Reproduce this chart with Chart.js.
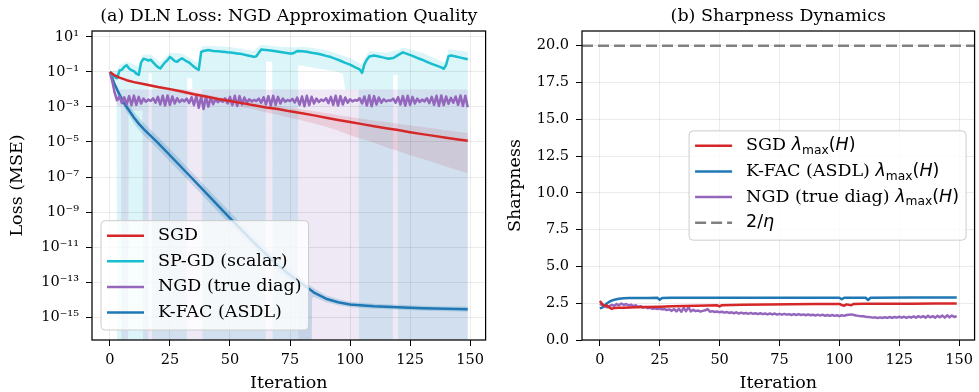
<!DOCTYPE html>
<html>
<head>
<meta charset="utf-8">
<script src="https://cdn.jsdelivr.net/npm/chart.js@4.4.0/dist/chart.umd.min.js"></script>
<style>
  html, body { margin: 0; padding: 0; background: #fff; }
  #wrap { position: relative; width: 979px; height: 392px; }
  #lossChart { position: absolute; left: 0; top: 0; }
  #sharpChart { position: absolute; left: 490px; top: 0; }
</style>
</head>
<body>
<div id="wrap">
  <canvas id="lossChart" width="490" height="392"></canvas>
  <canvas id="sharpChart" width="489" height="392"></canvas>
</div>
<script>
// ---- (a) loss, stored as log10(loss) ----
const sgdIter = [0,2,4,7,10,15,20,25,30,35,40,45,50,55,60,65,70,75,80,85,90,95,100,105,110,115,120,125,130,135,140,145,149];
const sgdLoss = [-1.0,-1.2,-1.32,-1.47,-1.58,-1.72,-1.86,-1.98,-2.12,-2.27,-2.40,-2.54,-2.66,-2.78,-2.90,-3.03,-3.12,-3.25,-3.36,-3.48,-3.61,-3.74,-3.86,-3.98,-4.10,-4.21,-4.32,-4.44,-4.55,-4.65,-4.76,-4.86,-4.93];
const sgdHi = [-1.0,-1.18,-1.29,-1.43,-1.53,-1.66,-1.79,-1.9,-2.03,-2.16,-2.28,-2.41,-2.52,-2.62,-2.73,-2.85,-2.93,-3.04,-3.14,-3.24,-3.35,-3.46,-3.57,-3.67,-3.77,-3.86,-3.96,-4.05,-4.15,-4.23,-4.33,-4.42,-4.5];
const sgdLo = [-1.0,-1.22,-1.36,-1.52,-1.64,-1.8,-1.95,-2.08,-2.24,-2.41,-2.56,-2.72,-2.86,-3.0,-3.15,-3.31,-3.45,-3.62,-3.77,-3.95,-4.13,-4.35,-4.62,-4.83,-5.05,-5.3,-5.52,-5.75,-5.96,-6.17,-6.4,-6.62,-6.8];

const spgdIter = [0,1,2,3,4,5,6,7,8,9,10,11,12,13,14,15,16,17,18,19,20,21,22,23,24,25,26,27,28,29,30,31,32,33,34,35,36,37,38,39,41,43,45,47,49,51,53,55,57,59,60,61,62,63,65,67,69,71,73,75,76,77,78,80,82,84,86,88,90,92,94,96,98,100,102,104,105,106,107,108,110,112,114,116,118,119,120,122,124,126,128,130,132,134,136,138,139,140,141,142,144,146,148,149];
const spgdLoss = [-1.0,-1.15,-1.3,-1.36,-0.92,-0.88,-0.7,-0.62,-0.8,-0.9,-0.95,-1.1,-1.17,-0.45,-0.25,-0.28,-0.35,-0.3,-0.45,-0.6,-0.72,-0.8,-0.62,-0.45,-0.32,-0.14,-0.25,-0.38,-0.42,-0.3,-0.22,-0.3,-0.4,-0.46,-0.58,-0.7,-0.8,-0.88,0.14,0.2,0.25,0.2,0.18,0.16,0.12,0.1,0.06,0.02,-0.05,-0.1,-0.14,-0.1,0.1,0.28,0.25,0.22,0.18,0.14,0.1,0.06,0.05,0.12,0.2,0.18,0.15,0.1,0.06,0.0,-0.08,-0.15,-0.25,-0.36,-0.48,-0.58,-0.72,-0.85,-1.05,-0.55,-0.3,-0.12,-0.06,-0.12,-0.18,-0.24,-0.2,-0.12,-0.04,0.12,0.02,-0.08,-0.2,-0.3,-0.42,-0.54,-0.64,-0.74,-0.82,-0.6,-0.1,-0.06,-0.12,-0.18,-0.24,-0.27];
const spgdHiIter = [0,3,4,7,12,13,14,17,21,25,30,37,38,41,50,60,62,63,70,77,80,90,100,104,105,106,108,115,120,122,130,139,140,141,149];
const spgdHi = [-0.95,-0.9,-0.6,-0.4,-0.7,-0.15,0.0,0.0,-0.45,0.1,0.05,-0.5,0.45,0.5,0.42,0.2,0.45,0.55,0.45,0.4,0.45,0.25,-0.2,-0.5,-0.6,-0.2,0.2,0.1,0.25,0.4,0.1,-0.45,-0.3,0.3,0.15];
const spgdLoIter = [0,2.8,3,16,16.2,17.4,17.6,32,32.2,34.2,34.4,38.4,38.6,64.8,65,67.6,67.8,78.2,78.4,86,94,97,98,103.6,103.8,117.8,118,119.8,120,149];
const spgdLo = [-1.05,-1.6,-20,-20,-1.07,-1.07,-20,-20,-1.36,-1.36,-2.0,-2.0,-20,-20,-0.41,-0.41,-20,-20,-0.6,-0.79,-0.96,-1.1,-2.0,-2.0,-20,-20,-1.17,-1.17,-20,-20];

// NGD: one value per iteration 0..149
const ngdLoss = [
  -1.00,-1.55,-2.20,-2.62,-2.40,-2.78,-2.45,-2.85,-2.38,-2.90,
  -2.35,-2.88,-2.42,-2.80,-2.52,-2.70,-2.58,-2.66,-2.50,-2.76,
  -2.42,-2.86,-2.36,-2.92,-2.34,-2.88,-2.40,-2.80,-2.50,-2.72,
  -2.58,-2.68,-2.52,-2.78,-2.44,-2.90,-2.36,-3.05,-2.40,-3.12,
  -2.42,-2.98,-2.48,-2.84,-2.56,-2.72,-2.60,-2.70,-2.50,-2.80,
  -2.42,-2.90,-2.36,-2.94,-2.38,-2.86,-2.46,-2.76,-2.56,-2.68,
  -2.60,-2.66,-2.52,-2.76,-2.44,-2.86,-2.38,-2.92,-2.36,-2.88,
  -2.42,-2.80,-2.52,-2.70,-2.60,-2.66,-2.54,-2.74,-2.46,-2.88,
  -2.40,-2.96,-2.36,-2.90,-2.42,-2.80,-2.52,-2.72,-2.58,-2.66,
  -2.50,-2.78,-2.42,-2.88,-2.36,-2.92,-2.38,-2.86,-2.46,-2.76,
  -2.56,-2.68,-2.60,-2.64,-2.50,-2.80,-2.40,-2.92,-2.34,-2.96,
  -2.38,-2.86,-2.46,-2.76,-2.56,-2.68,-2.62,-2.64,-2.52,-2.76,
  -2.44,-2.86,-2.38,-2.92,-2.36,-2.88,-2.42,-2.80,-2.52,-2.72,
  -2.58,-2.68,-2.50,-2.78,-2.42,-2.88,-2.36,-2.94,-2.34,-2.90,
  -2.40,-2.82,-2.48,-2.76,-2.40,-2.88,-2.34,-2.94,-2.36,-3.02
];
const ngdHiIter = [0,1,2,3,149];
const ngdHi = [-0.97,-1.35,-1.75,-2.0,-2.0];
const ngdLoIter = [0,1,2,3,4.6,4.8,7.6,7.8,13.6,13.8,149];
const ngdLo = [-1.03,-1.7,-2.5,-2.9,-3.0,-20,-20,-3.2,-3.2,-20,-20];

const kfacIter = [0,1,2,3,4,5,6,7,8,10,12,14,20,26,33,40,50,60,65,70,75,80,85,90,95,100,110,120,130,140,149];
const kfacLoss = [-1.0,-1.35,-1.7,-2.0,-2.3,-2.55,-2.8,-3.0,-3.2,-3.6,-3.95,-4.25,-5.05,-5.9,-6.9,-7.9,-9.35,-10.75,-11.4,-12.05,-12.6,-13.1,-13.6,-13.95,-14.15,-14.28,-14.38,-14.44,-14.5,-14.53,-14.55];
const kfacHi = [-1.0,-1.3,-1.6,-1.85,-2.1,-2.35,-2.55,-2.72,-2.9,-3.25,-3.6,-3.9,-4.7,-5.55,-6.55,-7.55,-9.0,-10.4,-11.05,-11.7,-12.3,-12.85,-13.35,-13.75,-13.97,-14.12,-14.24,-14.3,-14.36,-14.39,-14.4];
const kfacLoIter = [0,1,2,3,4,5,6,7,8,10,12,14,20,26,33,40,50,60,65,70,75,78.2,78.6,83.8,84.2,85,90,95,100,110,120,130,140,149];
const kfacLo = [-1.0,-1.4,-1.8,-2.15,-2.5,-2.75,-3.05,-3.28,-3.5,-3.95,-4.3,-4.6,-5.4,-6.25,-7.25,-8.25,-9.7,-11.1,-11.75,-12.4,-12.9,-13.2,-20,-20,-13.9,-13.85,-14.15,-14.33,-14.44,-14.52,-14.58,-14.64,-14.67,-14.7];

// ---- (b) sharpness ----
const sgdSharpIter = [0,1,2,3,4,5,6,8,10,15,20,25,30,35,40,45,49,50,51,55,60,70,80,90,100,101,102,103,105,106,110,120,130,140,149];
const sgdSharp = [2.65,2.45,2.3,2.35,2.2,2.12,2.18,2.2,2.2,2.22,2.24,2.26,2.29,2.31,2.33,2.35,2.36,2.28,2.37,2.38,2.39,2.41,2.43,2.44,2.45,2.38,2.33,2.42,2.36,2.45,2.46,2.47,2.47,2.48,2.48];
const kfacSharpIter = [0,1,2,3,4,5,6,7,8,10,12,15,20,24,25,26,30,40,60,80,100,101,102,111,112,113,130,149];
const kfacSharp = [2.15,2.2,2.35,2.5,2.6,2.68,2.73,2.77,2.8,2.83,2.85,2.86,2.86,2.87,2.74,2.86,2.87,2.87,2.87,2.87,2.87,2.77,2.87,2.87,2.72,2.87,2.88,2.88];
const ngdSharp = [
  2.45,2.38,2.30,2.22,2.30,2.38,2.33,2.44,2.36,2.48,
  2.38,2.45,2.34,2.40,2.30,2.36,2.24,2.30,2.20,2.25,
  2.16,2.20,2.12,2.16,2.10,2.14,2.08,2.10,2.04,2.08,
  1.98,2.10,1.94,2.12,1.92,2.18,1.96,2.22,1.94,2.05,
  1.96,2.00,1.94,1.98,2.02,2.10,1.92,1.96,1.90,1.94,
  1.88,1.92,1.86,1.90,1.84,1.88,1.82,1.88,1.80,1.86,
  1.80,1.84,1.78,1.84,1.78,1.82,1.76,1.82,1.76,1.80,
  1.74,1.80,1.74,1.80,1.72,1.78,1.72,1.78,1.72,1.76,
  1.70,1.76,1.70,1.76,1.70,1.74,1.68,1.74,1.68,1.72,
  1.66,1.72,1.66,1.72,1.64,1.70,1.64,1.70,1.64,1.68,
  1.62,1.68,1.64,1.70,1.72,1.74,1.70,1.66,1.64,1.62,
  1.62,1.58,1.56,1.54,1.52,1.54,1.50,1.54,1.50,1.55,
  1.50,1.56,1.50,1.56,1.52,1.58,1.52,1.58,1.50,1.58,
  1.52,1.60,1.52,1.62,1.54,1.62,1.52,1.64,1.54,1.62,
  1.52,1.64,1.54,1.66,1.52,1.68,1.54,1.66,1.56,1.62
];
const twoOverEta = 20;

// axes
const iterMin = -7.45, iterMax = 156.45;
const iterTicks = [0, 25, 50, 75, 100, 125, 150];
const lossMin = -16.31, lossMax = 1.34;
const lossTicks = [1, -1, -3, -5, -7, -9, -11, -13, -15];
const sharpMin = 0, sharpMax = 21;
const sharpTicks = [0, 2.5, 5, 7.5, 10, 12.5, 15, 17.5, 20];

const red = '#d62728', cyan = '#17becf', purple = '#9467bd', blue = '#1f77b4', gray = '#808080';
const SERIF = '"DejaVu Serif"', SANS = '"DejaVu Sans"';
const LW = 2.5;

const pts = (xs, ys) => ys.map((y, i) => ({x: xs[i], y: y}));
const perIter = ys => ys.map((y, i) => ({x: i, y: y}));

const SUP = {'-': '\u207B', '0': '\u2070', '1': '\u00B9', '2': '\u00B2', '3': '\u00B3', '4': '\u2074', '5': '\u2075', '6': '\u2076', '7': '\u2077', '8': '\u2078', '9': '\u2079'};
const powLabel = v => '10' + String(v).split('').map(c => SUP[c]).join('');

// shaded min/max bands, drawn under the grid like matplotlib's fill_between
function bandsPlugin(bands) {
  return {
    id: 'bands',
    beforeDraw(chart) {
      const {ctx, chartArea: a, scales: {x, y}} = chart;
      ctx.save();
      ctx.beginPath();
      ctx.rect(a.left, a.top, a.right - a.left, a.bottom - a.top);
      ctx.clip();
      bands.forEach(b => {
        ctx.beginPath();
        b.hi.forEach((p, i) => {
          const px = x.getPixelForValue(p.x), py = y.getPixelForValue(p.y);
          if (i) ctx.lineTo(px, py); else ctx.moveTo(px, py);
        });
        for (let i = b.lo.length - 1; i >= 0; i--) {
          ctx.lineTo(x.getPixelForValue(b.lo[i].x), y.getPixelForValue(b.lo[i].y));
        }
        ctx.closePath();
        ctx.fillStyle = b.color;
        ctx.fill();
      });
      ctx.restore();
    }
  };
}

// legend labels with a bit of mathtext
function labelParts(label) {
  const i = label.indexOf('\u03BB');
  if (i >= 0) {
    return [{t: label.slice(0, i), f: 'serif'}, {t: '\u03BB', f: 'sansI'}, {t: 'max', f: 'sub'},
            {t: '(', f: 'sans'}, {t: 'H', f: 'sansI'}, {t: ')', f: 'sans'}];
  }
  if (label.indexOf('\u03B7') >= 0) return [{t: '2/', f: 'sans'}, {t: '\u03B7', f: 'sansI'}];
  return [{t: label, f: 'serif'}];
}
function partFont(f, s) {
  if (f === 'serif') return s + 'px ' + SERIF;
  if (f === 'sans') return s + 'px ' + SANS;
  if (f === 'sansI') return 'italic ' + s + 'px ' + SANS;
  return (s * 0.7) + 'px ' + SANS;
}
function drawLabel(ctx, label, x, y, size, draw) {
  let cx = x;
  labelParts(label).forEach(p => {
    ctx.font = partFont(p.f, size);
    if (draw) ctx.fillText(p.t, cx, p.f === 'sub' ? y + size * 0.28 : y);
    cx += ctx.measureText(p.t).width;
  });
  return cx - x;
}

function drawLegend(chart, place) {
  const {ctx, chartArea: a} = chart;
  const size = 17.5, rowH = 25.6;
  const items = chart.data.datasets.map(d => ({label: d.label, color: d.borderColor, dash: d.borderDash, lw: d.borderWidth}));
  const textW = Math.max(...items.map(it => drawLabel(ctx, it.label, 0, 0, size, false)));
  const w = 57 + textW + 7;
  const h = 15 + rowH * (items.length - 1) + 17.5;
  let left, top;
  if (place === 'lower left') { left = a.left + 9; top = a.bottom - 10 - h; }
  else { left = a.right - 8.5 - w; top = (a.top + a.bottom) / 2 - h / 2; }
  ctx.save();
  ctx.beginPath();
  ctx.roundRect(left, top, w, h, 4);
  ctx.fillStyle = 'rgba(255,255,255,0.8)';
  ctx.fill();
  ctx.strokeStyle = '#cccccc';
  ctx.lineWidth = 1;
  ctx.stroke();
  ctx.textBaseline = 'middle';
  ctx.fillStyle = '#000';
  items.forEach((it, i) => {
    const yy = top + 15 + i * rowH;
    ctx.beginPath();
    ctx.setLineDash(it.dash || []);
    ctx.strokeStyle = it.color;
    ctx.lineWidth = it.lw || LW;
    ctx.moveTo(left + 6, yy);
    ctx.lineTo(left + 43, yy);
    ctx.stroke();
    ctx.setLineDash([]);
    drawLabel(ctx, it.label, left + 57, yy, size, true);
  });
  ctx.restore();
}

function framePlugin(title, legendPlace) {
  return {
    id: 'frame',
    afterDraw(chart) {
      const {ctx, chartArea: a} = chart;
      ctx.save();
      ctx.strokeStyle = '#000';
      ctx.lineWidth = 1.25;
      ctx.strokeRect(a.left, a.top, a.right - a.left, a.bottom - a.top);
      ctx.font = '17.5px ' + SERIF;
      ctx.fillStyle = '#000';
      ctx.textAlign = 'center';
      ctx.textBaseline = 'alphabetic';
      ctx.fillText(title, (a.left + a.right) / 2, 21);
      ctx.restore();
      drawLegend(chart, legendPlace);
    }
  };
}

function xAxis() {
  return {
    type: 'linear', min: iterMin, max: iterMax,
    afterBuildTicks: s => { s.ticks = iterTicks.map(v => ({value: v})); },
    afterFit: s => { s.height = 52; },
    border: {display: false},
    grid: {color: 'rgba(0,0,0,0.1)', lineWidth: 0.8, tickColor: '#000', tickLength: 6, tickWidth: 1},
    ticks: {font: {family: SERIF, size: 14.5}, color: '#000', padding: 6, maxRotation: 0, autoSkip: false},
    title: {display: true, text: 'Iteration', font: {family: SERIF, size: 17.5, lineHeight: 1}, color: '#000', padding: {top: 0, bottom: 0}}
  };
}
function yAxis(min, max, tickVals, fmt, titleText, titlePad) {
  return {
    type: 'linear', min: min, max: max,
    afterBuildTicks: s => { s.ticks = tickVals.map(v => ({value: v})); },
    afterFit: s => { s.width = 92; },
    border: {display: false},
    grid: {color: 'rgba(0,0,0,0.1)', lineWidth: 0.8, tickColor: '#000', tickLength: 6, tickWidth: 1},
    ticks: {font: {family: SERIF, size: 14.5}, color: '#000', padding: 7, autoSkip: false, callback: fmt},
    title: {display: true, text: titleText, font: {family: SERIF, size: 17.5, lineHeight: 1.2}, color: '#000', padding: {top: titlePad, bottom: 0}}
  };
}
const baseOptions = {
  responsive: false,
  animation: false,
  events: [],
  layout: {padding: {top: 31, right: 1, left: 0, bottom: 0}},
  elements: {point: {radius: 0}, line: {borderWidth: LW, tension: 0, borderJoinStyle: 'round', fill: false}},
  plugins: {legend: {display: false}, tooltip: {enabled: false}, title: {display: false}}
};

const lossBands = [
  {color: 'rgba(214,39,40,0.15)', hi: pts(sgdIter, sgdHi), lo: pts(sgdIter, sgdLo)},
  {color: 'rgba(23,190,207,0.15)', hi: pts(spgdHiIter, spgdHi), lo: pts(spgdLoIter, spgdLo)},
  {color: 'rgba(148,103,189,0.15)', hi: pts(ngdHiIter, ngdHi), lo: pts(ngdLoIter, ngdLo)},
  {color: 'rgba(31,119,180,0.2)', hi: pts(kfacIter, kfacHi), lo: pts(kfacLoIter, kfacLo)}
];

new Chart(document.getElementById('lossChart'), {
  type: 'line',
  data: {
    datasets: [
      {label: 'SGD', data: pts(sgdIter, sgdLoss), borderColor: red},
      {label: 'SP-GD (scalar)', data: pts(spgdIter, spgdLoss), borderColor: cyan},
      {label: 'NGD (true diag)', data: perIter(ngdLoss), borderColor: purple},
      {label: 'K-FAC (ASDL)', data: pts(kfacIter, kfacLoss), borderColor: blue}
    ]
  },
  options: Object.assign({}, baseOptions, {
    scales: {
      x: xAxis(),
      y: yAxis(lossMin, lossMax, lossTicks, v => powLabel(v), 'Loss (MSE)', 6.5)
    }
  }),
  plugins: [bandsPlugin(lossBands), framePlugin('(a) DLN Loss: NGD Approximation Quality', 'lower left')]
});

new Chart(document.getElementById('sharpChart'), {
  type: 'line',
  data: {
    datasets: [
      {label: 'SGD \u03BBmax(H)', data: pts(sgdSharpIter, sgdSharp), borderColor: red},
      {label: 'K-FAC (ASDL) \u03BBmax(H)', data: pts(kfacSharpIter, kfacSharp), borderColor: blue},
      {label: 'NGD (true diag) \u03BBmax(H)', data: perIter(ngdSharp), borderColor: purple},
      {label: '2/\u03B7', data: [{x: iterMin, y: twoOverEta}, {x: iterMax, y: twoOverEta}], borderColor: gray, borderDash: [11, 5], borderWidth: 2.5}
    ]
  },
  options: Object.assign({}, baseOptions, {
    scales: {
      x: xAxis(),
      y: yAxis(sharpMin, sharpMax, sharpTicks, v => v.toFixed(1), 'Sharpness', 15)
    }
  }),
  plugins: [framePlugin('(b) Sharpness Dynamics', 'center right')]
});
</script>
</body>
</html>
